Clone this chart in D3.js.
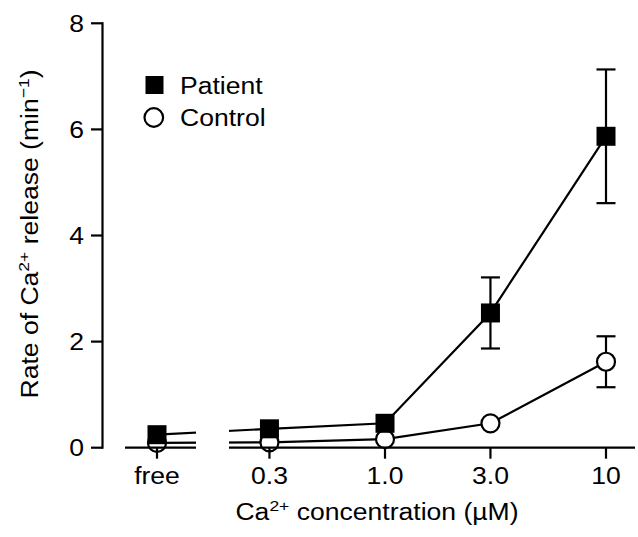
<!DOCTYPE html>
<html>
<head>
<meta charset="utf-8">
<script src="https://cdn.jsdelivr.net/npm/d3@7"></script>
<style>
  body { margin: 0; background: #fff; }
  text { font-family: "Liberation Sans", Arial, sans-serif; fill: #000; }
</style>
</head>
<body>
<svg></svg>
<script>
// data
var concLabels = ["free", "0.3", "1.0", "3.0", "10"];
var concValues = [null, 0.3, 1, 3, 10];   // µM, "free" sits on its own axis piece
var patient = [0.245, 0.356, 0.46, 2.54, 5.87];
var patientErr = [0, 0, 0, 0.67, 1.26];
var control = [0.09, 0.1, 0.16, 0.46, 1.62];
var controlErr = [0, 0, 0, 0, 0.48];
var yTicks = [0, 2, 4, 6, 8];

var width = 638, height = 537;
var sx = 1.13; // the lettering in the figure is a bit wider than Arial
var fs = "23.5px";
var sw = 2.2;
var svg = d3.select("svg")
    .attr("width", width)
    .attr("height", height);

var yScale = d3.scaleLinear()
    .domain([0, 8])
    .range([447.7, 23.3]);

var xScale = d3.scaleLog()
    .domain([1, 10])
    .range([385, 606]);

var freeX = 157;
var freeSeg = [125, 196];
var mainSeg = [229, 635];

function px(i) { return i === 0 ? freeX : xScale(concValues[i]); }

var points = concLabels.map(function(c, i) {
    return { i: i, x: px(i), p: patient[i], pe: patientErr[i], c: control[i], ce: controlErr[i] };
});

// clip away the axis break for the connecting lines
svg.append("clipPath").attr("id", "brk")
  .selectAll("rect")
  .data([[0, freeSeg[1]], [mainSeg[0], width]])
  .enter().append("rect")
    .attr("x", d => d[0])
    .attr("y", 0)
    .attr("width", d => d[1] - d[0])
    .attr("height", height);

var line = d3.line();

function txt(g, x, y, s, anchor) {
    return g.append("text")
        .attr("transform", "translate(" + x + "," + y + ") scale(" + sx + ",1)")
        .attr("text-anchor", anchor || "middle")
        .style("font-size", fs)
        .text(s);
}

// y axis
var ax = svg.append("g").attr("stroke", "#000").attr("stroke-width", sw).attr("fill", "none");
ax.append("line")
    .attr("x1", 102.5).attr("x2", 102.5)
    .attr("y1", yScale(8) - 1).attr("y2", yScale(0) + 1);
ax.selectAll(".yt").data(yTicks).enter().append("line")
    .attr("x1", 91).attr("x2", 102.5)
    .attr("y1", d => yScale(d)).attr("y2", d => yScale(d));
yTicks.forEach(function(t) { txt(svg, 84, yScale(t) + 8.3, t, "end"); });

// control line + open circles (drawn first, axis goes over)
svg.append("path")
    .attr("clip-path", "url(#brk)")
    .attr("d", line(points.map(d => [d.x, yScale(d.c)])))
    .attr("fill", "none").attr("stroke", "#000").attr("stroke-width", sw);

function errBars(key, ekey) {
    var eb = svg.append("g").attr("stroke", "#000").attr("stroke-width", sw);
    var pts = points.filter(d => d[ekey] > 0);
    eb.selectAll(".v").data(pts).enter().append("line")
        .attr("x1", d => d.x).attr("x2", d => d.x)
        .attr("y1", d => yScale(d[key] + d[ekey])).attr("y2", d => yScale(d[key] - d[ekey]));
    [1, -1].forEach(function(s) {
        eb.selectAll(".c" + s).data(pts).enter().append("line")
            .attr("x1", d => d.x - 9.5).attr("x2", d => d.x + 9.5)
            .attr("y1", d => yScale(d[key] + s * d[ekey])).attr("y2", d => yScale(d[key] + s * d[ekey]));
    });
}
errBars("c", "ce");

svg.selectAll(".ctl").data(points).enter().append("circle")
    .attr("cx", d => d.x).attr("cy", d => yScale(d.c)).attr("r", 9)
    .attr("fill", "#fff").attr("stroke", "#000").attr("stroke-width", sw);

// x axis in two pieces
var xa = svg.append("g").attr("stroke", "#000").attr("stroke-width", sw);
xa.selectAll(".seg").data([freeSeg, mainSeg]).enter().append("line")
    .attr("x1", d => d[0]).attr("x2", d => d[1])
    .attr("y1", yScale(0)).attr("y2", yScale(0));
xa.selectAll(".xt").data(points).enter().append("line")
    .attr("x1", d => d.x).attr("x2", d => d.x)
    .attr("y1", yScale(0)).attr("y2", yScale(0) + 11);
points.forEach(function(d) { txt(svg, d.x, 483.5, concLabels[d.i]); });

// patient line + filled squares
svg.append("path")
    .attr("clip-path", "url(#brk)")
    .attr("d", line(points.map(d => [d.x, yScale(d.p)])))
    .attr("fill", "none").attr("stroke", "#000").attr("stroke-width", sw);
errBars("p", "pe");
svg.selectAll(".pat").data(points).enter().append("rect")
    .attr("x", d => d.x - 9.5).attr("y", d => yScale(d.p) - 9.5)
    .attr("width", 19).attr("height", 19)
    .attr("fill", "#000");

// legend
svg.append("rect").attr("x", 145.5).attr("y", 76).attr("width", 18).attr("height", 18).attr("fill", "#000");
txt(svg, 180, 93.5, "Patient", "start");
svg.append("circle").attr("cx", 153.8).attr("cy", 117.5).attr("r", 9.3)
    .attr("fill", "#fff").attr("stroke", "#000").attr("stroke-width", sw);
txt(svg, 180, 126, "Control", "start");

// axis titles
var xt = txt(svg, 377, 520, "Ca");
xt.append("tspan").attr("dy", -9).style("font-size", "15.5px").text("2+");
xt.append("tspan").attr("dy", 9).text(" concentration (µM)");

var yt = svg.append("text")
    .attr("transform", "translate(37.5,234) rotate(-90) scale(" + sx + ",1)")
    .attr("text-anchor", "middle")
    .style("font-size", fs)
    .text("Rate of Ca");
yt.append("tspan").attr("dy", -9).style("font-size", "15.5px").text("2+");
yt.append("tspan").attr("dy", 9).text(" release (min");
yt.append("tspan").attr("dy", -9).style("font-size", "15.5px").text("\u22121");
yt.append("tspan").attr("dy", 9).text(")");
</script>
</body>
</html>
